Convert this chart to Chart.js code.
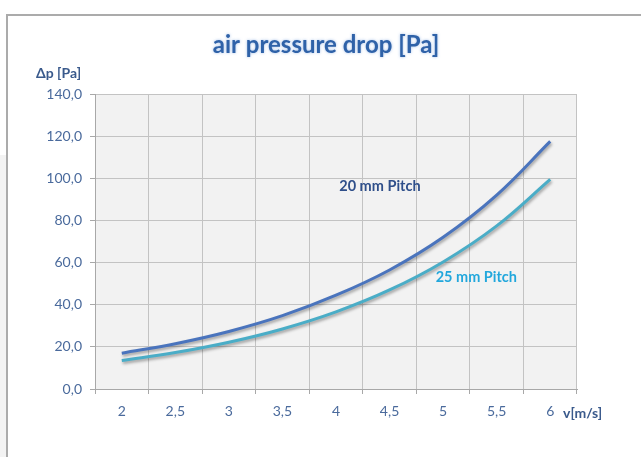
<!DOCTYPE html>
<html>
<head>
<meta charset="utf-8">
<title>air pressure drop</title>
<script src="https://cdn.jsdelivr.net/npm/chart.js@4/dist/chart.umd.min.js"></script>
<style>
  html, body { margin: 0; padding: 0; background: #ffffff; }
  #wrap { position: relative; width: 641px; height: 457px; }
</style>
</head>
<body>
<div id="wrap"><canvas id="Grafico" width="641" height="457"></canvas></div>
<script>
// values
var velocidades = ['2', '2,5', '3', '3,5', '4', '4,5', '5', '5,5', '6'];
var pitch20 = [17.0, 21.5, 27.3, 34.8, 44.5, 56.5, 72.0, 92.0, 117.5];
var pitch25 = [13.5, 17.3, 22.2, 28.5, 36.6, 47.0, 60.3, 77.4, 99.5];
var nomes = ['20 mm Pitch', '25 mm Pitch'];
var cores = ['#4a74bd', '#4aadc7'];
var coresTexto = ['#2f4f8a', '#22a7dc'];
// where the in-chart series labels sit, in data units (category index, Pa)
var posRotulos = [[4.82, 96.3], [6.62, 53.2]];

var fonte = 'Lato, "Open Sans", sans-serif';
var corEixo = '#4a6a9c';
var corGrade = '#c3c3c3';

var fundo = {
    id: 'fundo',
    beforeDraw: function (chart) {
        var ctx = chart.ctx;
        var a = chart.chartArea;
        ctx.save();
        ctx.fillStyle = '#ffffff';
        ctx.fillRect(0, 0, chart.width, chart.height);
        // sheet bit left of the frame
        ctx.fillStyle = '#f3f3f3';
        ctx.fillRect(0, 155, 6, chart.height);
        // chart frame
        ctx.strokeStyle = '#ababab';
        ctx.lineWidth = 2;
        ctx.beginPath();
        ctx.moveTo(7, chart.height + 5);
        ctx.lineTo(7, 15);
        ctx.lineTo(chart.width + 5, 15);
        ctx.stroke();
        // plot area
        ctx.fillStyle = '#f2f2f2';
        ctx.fillRect(a.left, a.top, a.right - a.left, a.bottom - a.top);
        ctx.restore();
    }
};

var sombra = {
    id: 'sombra',
    beforeDatasetsDraw: function (chart) {
        var ctx = chart.ctx;
        ctx.save();
        ctx.shadowColor = 'rgba(0,0,0,0.35)';
        ctx.shadowBlur = 3;
        ctx.shadowOffsetX = 1;
        ctx.shadowOffsetY = 2;
    },
    afterDatasetsDraw: function (chart) {
        chart.ctx.restore();
    }
};

var textos = {
    id: 'textos',
    afterDraw: function (chart) {
        var ctx = chart.ctx;
        var xs = chart.scales.x;
        var ys = chart.scales.y;
        ctx.save();
        // title
        ctx.font = 'bold 24px ' + fonte;
        ctx.textAlign = 'center';
        ctx.textBaseline = 'middle';
        ctx.shadowColor = 'rgba(120,160,220,0.7)';
        ctx.shadowBlur = 3;
        ctx.fillStyle = '#2f62a8';
        ctx.fillText('air pressure drop [Pa]', 326, 45);
        ctx.shadowBlur = 0;
        ctx.shadowColor = 'transparent';
        // axis titles
        ctx.font = 'bold 14px ' + fonte;
        ctx.fillStyle = '#3a5a8c';
        ctx.textAlign = 'left';
        ctx.fillText('\u0394p [Pa]', 36, 73);
        ctx.fillText('v[m/s]', 563, 413);
        // series labels
        ctx.font = 'bold 14.5px ' + fonte;
        ctx.textAlign = 'center';
        for (var i = 0; i < nomes.length; i++) {
            ctx.fillStyle = coresTexto[i];
            ctx.fillText(nomes[i], xs.getPixelForValue(posRotulos[i][0]), ys.getPixelForValue(posRotulos[i][1]));
        }
        ctx.restore();
    }
};

var ctx = document.getElementById('Grafico').getContext('2d');
var chart = new Chart(ctx, {
    type: 'line',
    data: {
        labels: velocidades,
        datasets: [{
            label: nomes[0],
            data: pitch20,
            borderColor: cores[0],
            borderWidth: 3,
            pointRadius: 0,
            tension: 0.4,
            fill: false
        }, {
            label: nomes[1],
            data: pitch25,
            borderColor: cores[1],
            borderWidth: 3,
            pointRadius: 0,
            tension: 0.4,
            fill: false
        }]
    },
    options: {
        responsive: false,
        animation: false,
        layout: { padding: { left: 0, top: 94, right: 64, bottom: 0 } },
        plugins: {
            legend: { display: false },
            title: { display: false },
            tooltip: { enabled: false }
        },
        scales: {
            x: {
                offset: true,
                grid: { offset: true, color: corGrade, tickLength: 5, tickColor: '#a8a8a8' },
                border: { color: '#a8a8a8' },
                ticks: { color: corEixo, padding: 9, font: { family: fonte, size: 14 }, maxRotation: 0 },
                afterFit: function (scale) { scale.height = 68; }
            },
            y: {
                min: 0,
                max: 140,
                grid: { color: corGrade, tickLength: 5, tickColor: '#a8a8a8' },
                border: { color: '#a8a8a8' },
                ticks: {
                    stepSize: 20,
                    color: corEixo,
                    padding: 8,
                    font: { family: fonte, size: 14 },
                    callback: function (v) { return v.toFixed(1).replace('.', ','); }
                },
                afterFit: function (scale) { scale.width = 95; }
            }
        }
    },
    plugins: [fundo, sombra, textos]
});
</script>
</body>
</html>
